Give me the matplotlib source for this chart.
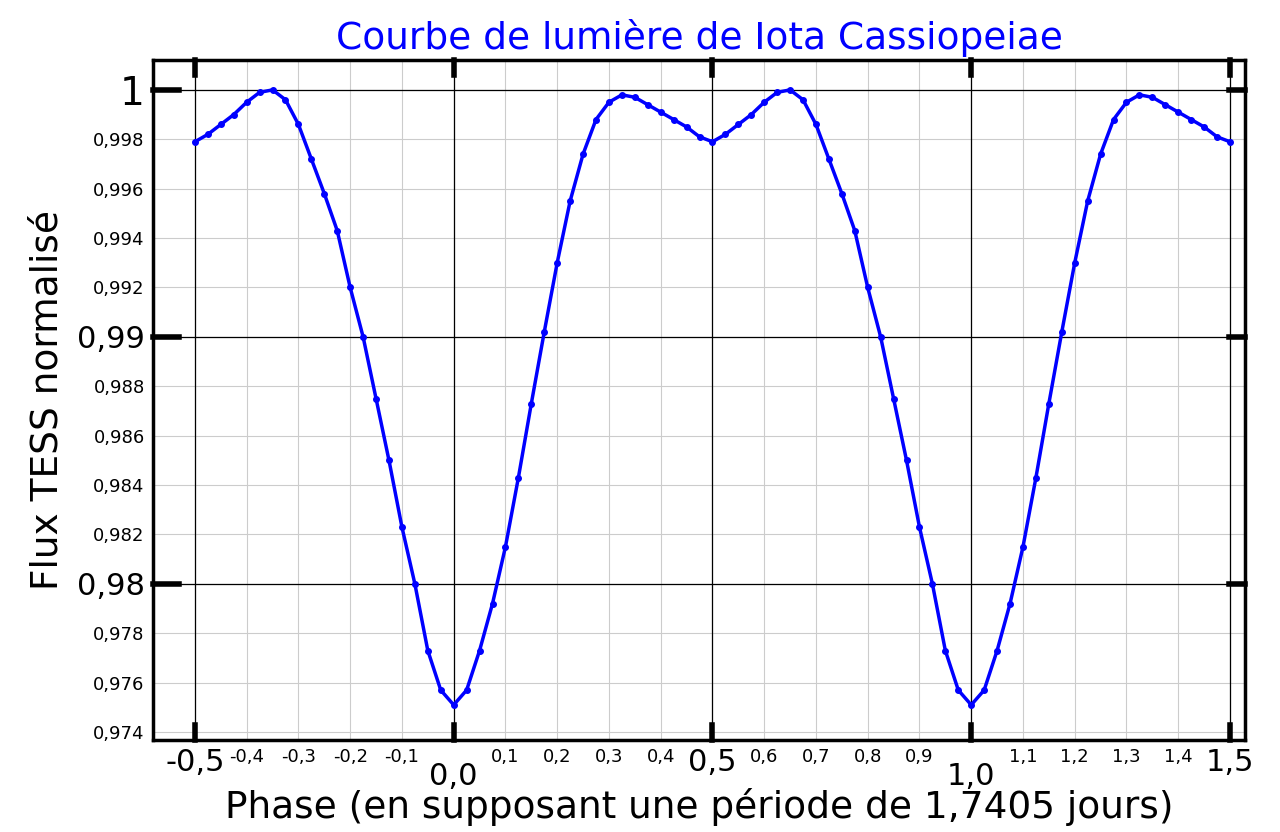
import matplotlib.pyplot as plt
import numpy as np

# one folded cycle, phase 0..1 (step 0.025)
phase = [0.000, 0.025, 0.050, 0.075, 0.100, 0.125, 0.150, 0.175, 0.200, 0.225,
         0.250, 0.275, 0.300, 0.325, 0.350, 0.375, 0.400, 0.425, 0.450, 0.475,
         0.500, 0.525, 0.550, 0.575, 0.600, 0.625, 0.650, 0.675, 0.700, 0.725,
         0.750, 0.775, 0.800, 0.825, 0.850, 0.875, 0.900, 0.925, 0.950, 0.975]
flux = [0.9751, 0.9757, 0.9773, 0.9792, 0.9815, 0.9843, 0.9873, 0.9902, 0.9930, 0.9955,
        0.9974, 0.9988, 0.9995, 0.9998, 0.9997, 0.9994, 0.9991, 0.9988, 0.9985, 0.9981,
        0.9979, 0.9982, 0.9986, 0.9990, 0.9995, 0.9999, 1.0000, 0.9996, 0.9986, 0.9972,
        0.9958, 0.9943, 0.9920, 0.9900, 0.9875, 0.9850, 0.9823, 0.9800, 0.9773, 0.9757]

x_ticks = [-0.5, -0.4, -0.3, -0.2, -0.1, 0.0, 0.1, 0.2, 0.3, 0.4, 0.5,
           0.6, 0.7, 0.8, 0.9, 1.0, 1.1, 1.2, 1.3, 1.4, 1.5]
y_ticks = [0.974, 0.976, 0.978, 0.98, 0.982, 0.984, 0.986, 0.988, 0.99,
           0.992, 0.994, 0.996, 0.998, 1.0]

# tile the folded cycle over -0.5..1.5
ph = np.array(phase)
fl = np.array(flux)
xs = np.concatenate([ph - 1, ph, ph + 1, [2.0]])
ys = np.concatenate([fl, fl, fl, [fl[0]]])
m = (xs >= -0.5) & (xs <= 1.5)
xs, ys = xs[m], ys[m]

fig = plt.figure(figsize=(12.8, 8.32), dpi=100)
ax = fig.add_axes([153/1280, 92/832, 1092/1280, 680/832])
ax.set_xlim(-0.581, 1.529)
ax.set_ylim(0.97368, 1.00121)
ax.set_axisbelow(True)

ax.grid(True, color='#cccccc', linewidth=0.8, zorder=0)
for v in [0.0, 0.5, 1.0, -0.5, 1.5]:
    ax.axvline(v, color='black', linewidth=0.9, zorder=2)
for v in [1.0, 0.99, 0.98]:
    ax.axhline(v, color='black', linewidth=0.9, zorder=2)

ax.plot(xs, ys, color='blue', linewidth=2.5, marker='o', markersize=4, zorder=3)

ax.set_xticks(x_ticks)
xl = [('%.1f' % v).replace('.', ',') for v in x_ticks]
ax.set_xticklabels(xl)
for v, lab in zip(x_ticks, ax.get_xticklabels()):
    if abs(v * 2 - round(v * 2)) < 1e-6:
        lab.set_fontsize(22)
        if v in (0.0, 1.0):
            lab.set_y(-0.02)
    else:
        lab.set_fontsize(13)

ax.set_yticks(y_ticks)
yl = []
for v in y_ticks:
    if abs(v - 1.0) < 1e-9:
        yl.append('1')
    elif abs(v * 100 - round(v * 100)) < 1e-6:
        yl.append(('%.2f' % v).replace('.', ','))
    else:
        yl.append(('%.3f' % v).replace('.', ','))
ax.set_yticklabels(yl)
for v, lab in zip(y_ticks, ax.get_yticklabels()):
    if abs(v * 100 - round(v * 100)) < 1e-6:
        lab.set_fontsize(22 if v < 1 else 28)
    else:
        lab.set_fontsize(13)

ax.tick_params(length=0, pad=6)
for s in ax.spines.values():
    s.set_linewidth(2.5)

# thick major tick marks, on both sides of the frame
for v in [-0.5, 0.0, 0.5, 1.0, 1.5]:
    ax.plot([v, v], [0.97368, 0.97368 + 0.0006], color='black', lw=4, clip_on=False, zorder=4)
    ax.plot([v, v], [1.00121, 1.00121 - 0.0006], color='black', lw=4, clip_on=False, zorder=4)
for v in [0.98, 0.99, 1.0]:
    ax.plot([-0.581, -0.581 + 0.05], [v, v], color='black', lw=4, clip_on=False, zorder=4)
    ax.plot([1.529, 1.529 - 0.03], [v, v], color='black', lw=4, clip_on=False, zorder=4)

ax.set_title('Courbe de lumière de Iota Cassiopeiae', color='blue', fontsize=27, pad=8)
ax.set_xlabel('Phase (en supposant une période de 1,7405 jours)', fontsize=27, labelpad=-2)
ax.set_ylabel('Flux TESS normalisé', fontsize=27, labelpad=8)

fig.savefig('out.png', dpi=100)
